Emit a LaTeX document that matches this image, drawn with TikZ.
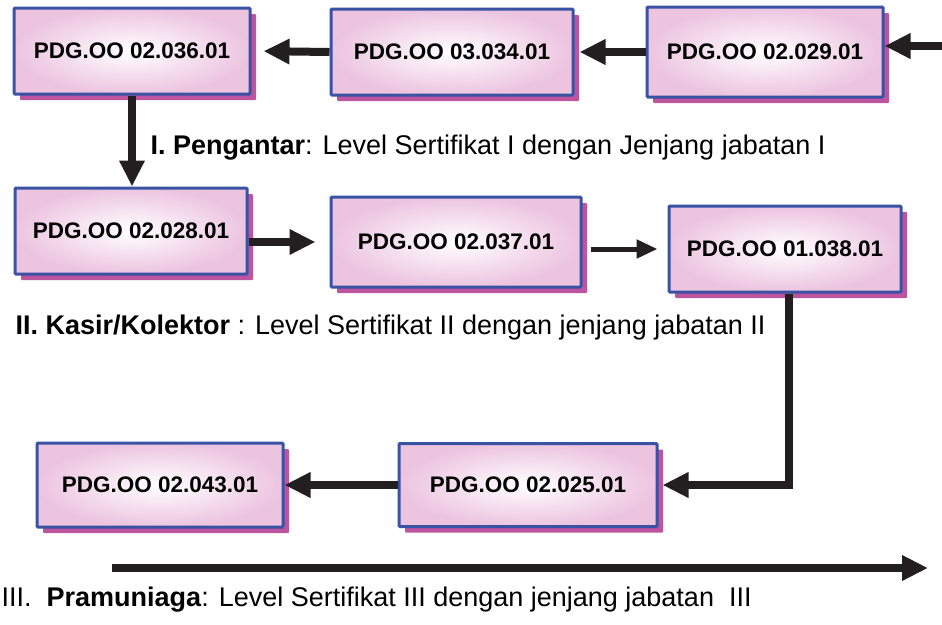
\documentclass[tikz,border=0pt]{standalone}
\usepackage{fontspec}
\setmainfont{Liberation Sans}
\usetikzlibrary{arrows.meta, shadows}

\definecolor{boxblue}{RGB}{58,82,164}
\definecolor{boxpink}{RGB}{236,196,224}
\definecolor{shadowmag}{RGB}{188,84,160}
\definecolor{arrowblack}{RGB}{35,31,32}

\begin{document}
\begin{tikzpicture}[
    x=1pt, y=-1pt,
    every node/.style={font=\fontsize{27}{32}\selectfont},
    unit/.style={draw=boxblue, line width=3pt, rounded corners=1pt,
        inner color=white, outer color=boxpink, inner sep=0pt,
        minimum width=236pt, minimum height=86pt,
        font=\fontsize{22.5}{26}\selectfont\bfseries,
        drop shadow={shadow xshift=6pt, shadow yshift=-6pt, fill=shadowmag, opacity=1}},
    flow/.style={line width=8pt, arrowblack, -{Triangle[length=26pt,width=24pt]}},
    thinflow/.style={line width=5pt, arrowblack, -{Triangle[length=21pt,width=18pt]}},
    >=Stealth
]
\useasboundingbox (0,0) rectangle (942,624);

% --- Level I: top row (right to left) ---
\node[unit] (u036) at (132,51) {PDG.OO 02.036.01};
\node[unit, minimum width=242pt] (u034) at (452,52) {PDG.OO 03.034.01};
\node[unit, minimum height=90pt] (u029) at (765,52) {PDG.OO 02.029.01};

% --- Level II: middle row ---
\node[unit, minimum width=232pt] (u028) at (131,231) {PDG.OO 02.028.01};
\node[unit, minimum width=250pt, minimum height=90pt] (u037) at (456,242) {PDG.OO 02.037.01};
\node[unit, minimum width=232pt] (u038) at (785,249) {PDG.OO 01.038.01};

% --- Level III: bottom row ---
\node[unit, minimum width=258pt, minimum height=83pt] (u025) at (528,485) {PDG.OO 02.025.01};
\node[unit, minimum width=246pt, minimum height=84pt] (u043) at (160,485) {PDG.OO 02.043.01};

% --- Level labels ---
\node[anchor=west] (lvl1) at (147,148) {\textbf{I. Pengantar}: Level Sertifikat I dengan Jenjang jabatan I};
\node[anchor=west] (lvl2) at (12,328) {\textbf{II. Kasir/Kolektor} : Level Sertifikat II dengan jenjang jabatan II};
\node[anchor=west] (lvl3) at (-2,600) {III.\ \ \textbf{Pramuniaga}: Level Sertifikat III dengan jenjang jabatan\ \ III};

% --- Connectors ---
\coordinate (entry) at (942,46);
\draw[flow] (entry) -- (entry -| u029.east);
\draw[flow, shorten >=5pt] (u029.west) -- (u034.east);
\draw[flow, shorten >=12pt] (u034.west) -- (u036.east);
\draw[flow] (u036.south) -- (u036.south |- u028.north);
\draw[flow, shorten >=14pt] (u028.east |- u037.west) -- (u037.west);
\draw[thinflow, shorten <=8pt, shorten >=10pt] (u037.east |- u038.west) -- (u038.west);
\draw[flow, shorten >=4pt] ([xshift=4pt]u038.south) |- (u025.east);
\draw[flow] (u025.west) -- (u043.east);

% --- Progression arrow ---
\coordinate (trackstart) at (112,568);
\coordinate (trackend) at (928,568);
\draw[flow] (trackstart) -- (trackend);

\end{tikzpicture}
\end{document}
